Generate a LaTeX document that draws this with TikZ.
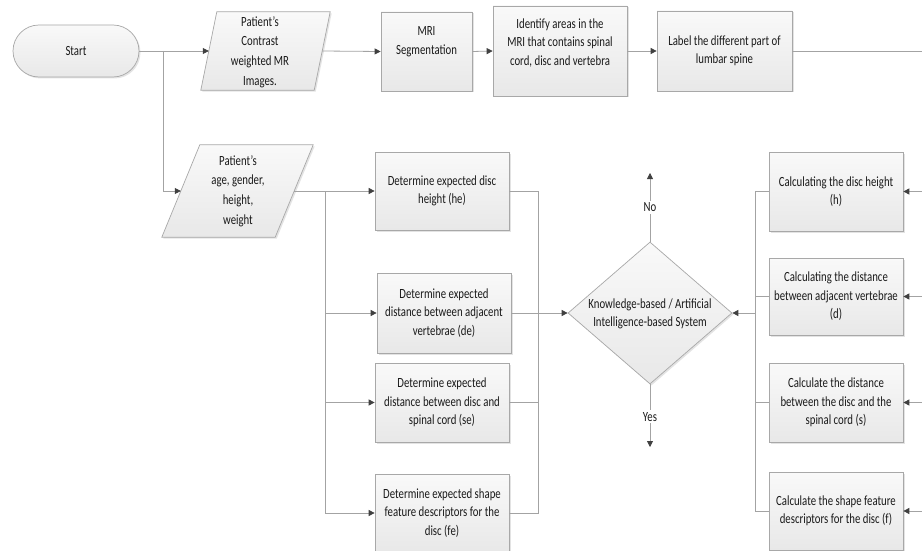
\documentclass[tikz,border=0pt]{standalone}
\usepackage{fontspec}
\setmainfont{Carlito}[FakeStretch=0.77]
\usetikzlibrary{shapes.geometric,arrows.meta,shadows}
\definecolor{linec}{HTML}{A3A3A3}
\definecolor{arrc}{HTML}{404040}
\definecolor{bordc}{HTML}{A8A8A8}
\definecolor{txtc}{HTML}{1A1A1A}
\definecolor{filltop}{HTML}{F9F9F9}
\definecolor{fillbot}{HTML}{E8E8E8}
\begin{document}
\begin{tikzpicture}[x=1pt,y=-1pt,
  shp/.style={draw=bordc, line width=0.7pt, top color=filltop, bottom color=fillbot,
    drop shadow={opacity=0.22, shadow xshift=1.5pt, shadow yshift=-1.5pt}},
  txt/.style={font=\fontsize{14}{18.5}\selectfont, text=txtc, align=center, inner sep=0pt},
  txtw/.style={font=\fontsize{14}{19.6}\selectfont, text=txtc, align=center, inner sep=0pt},
  box/.style={shp, rectangle, txt},
  frame/.style={rectangle, inner sep=0pt, draw=none},
  conn/.style={draw=linec, line width=0.8pt},
  arr/.style={conn, -{Triangle[length=6pt,width=6pt,color=arrc]}},
]
\fill[white] (0,0) rectangle (922,551);
\useasboundingbox (0,0) rectangle (922,551);

% ---------- top row ----------
\node[box, rounded corners=26pt, minimum width=126pt, minimum height=52pt] (start) at (76,51) {Start};

\node[frame, minimum width=129pt, minimum height=78pt] (p1) at (265.5,51) {};
\path[shp] ([xshift=16pt]p1.north west) -- (p1.north east) -- ([xshift=-16pt]p1.south east) -- (p1.south west) -- cycle;
\node[txtw] (p1t) at (260,52) {Patient’s\\Contrast\\weighted MR\\Images.};

\node[box, minimum width=91pt, minimum height=79pt] (mri) at (426.5,51.5) {};
\node[txt] (mrit) at (426.5,41.5) {MRI\\Segmentation};

\node[box, minimum width=134pt, minimum height=90pt] (idf) at (560,51) {};
\node[txt] (idft) at (560,43) {Identify areas in the\\MRI that contains spinal\\cord, disc and vertebra};

\node[box, minimum width=135pt, minimum height=80pt] (lab) at (724.5,51) {Label the different part of\\lumbar spine};

% ---------- patient data ----------
\node[frame, minimum width=151pt, minimum height=92pt] (age) at (237.5,191) {};
\path[shp] ([xshift=38pt]age.north west) -- (age.north east) -- ([xshift=-38pt]age.south east) -- (age.south west) -- cycle;
\node[txtw] (aget) at (238,191) {Patient’s\\age, gender,\\height,\\weight};

% ---------- expected values ----------
\node[box, minimum width=134pt, minimum height=78pt] (he) at (442,191) {Determine expected disc\\height (he)};
\node[box, minimum width=134pt, minimum height=80pt] (de) at (444,313) {Determine expected\\distance between adjacent\\vertebrae (de)};
\node[box, minimum width=134pt, minimum height=79pt] (se) at (442,402.5) {Determine expected\\distance between disc and\\spinal cord (se)};
\node[box, minimum width=134pt, minimum height=78pt] (fe) at (442,513) {Determine expected shape\\feature descriptors for the\\disc (fe)};

% ---------- decision ----------
\node[shp, diamond, minimum width=164pt, minimum height=142pt, inner sep=0pt] (dia) at (650,313) {};
\node[txt] (diat) at (650,314) {Knowledge-based / Artificial\\Intelligence-based System};

% ---------- measured values ----------
\node[box, minimum width=134pt, minimum height=79pt] (h) at (836,191.5) {Calculating the disc height\\(h)};
\node[box, minimum width=134pt, minimum height=77pt] (d) at (836,296.5) {Calculating the distance\\between adjacent vertebrae\\(d)};
\node[box, minimum width=134pt, minimum height=79pt] (s) at (836,402.5) {Calculate the distance\\between the disc and the\\spinal cord (s)};
\node[box, minimum width=134pt, minimum height=78pt] (f) at (836,511) {Calculate the shape feature\\descriptors for the disc (f)};

% ---------- connectors: top ----------
\coordinate (br1) at (163,51);
\draw[arr] (start.east) -- ([xshift=8pt]p1.west);
\draw[arr] (br1) |- ([xshift=19pt]age.west);
\draw[arr] ([xshift=-8pt]p1.east) -- (mri.west);
\draw[arr] (mri.east) -- (idf.west);
\draw[arr] (idf.east) -- (lab.west);
\coordinate (rtop) at (922,51);
\draw[conn] (lab.east) -- (rtop);

% ---------- connectors: expected ----------
\coordinate (c1) at (325,191);
\draw[arr] ([xshift=-19pt]age.east) -- (he.west);
\draw[arr] (c1) |- (de.west);
\draw[arr] (c1) |- (se.west);
\draw[arr] (c1) |- (fe.west);
\coordinate (c2) at (538,191);
\draw[conn] (he.east) -- (c2) |- (fe.east);
\draw[conn] (se.east) -- (se.east -| c2);
\draw[arr] (de.east) -- (dia.west);

% ---------- connectors: decision ----------
\coordinate (noend) at (650,173);
\coordinate (yesend) at (650,447);
\draw[arr] (dia.north) -- (noend) node[pos=0.5, txt, fill=white, inner sep=2pt] (no) {No};
\draw[arr] (dia.south) -- (yesend) node[pos=0.52, txt, fill=white, inner sep=2pt] (yes) {Yes};

% ---------- connectors: measured ----------
\coordinate (c3) at (755,192);
\draw[conn] (h.west) -- (h.west -| c3) |- (f.west);
\draw[conn] (d.west) -- (d.west -| c3);
\draw[conn] (s.west) -- (s.west -| c3);
\draw[arr] (dia.east -| c3) -- (dia.east);
\coordinate (hin) at (922,191.5);
\coordinate (din) at (922,296.5);
\coordinate (sin) at (922,402.5);
\coordinate (fin) at (922,511);
\draw[arr] (hin) -- (h.east);
\draw[arr] (din) -- (d.east);
\draw[arr] (sin) -- (s.east);
\draw[arr] (fin) -- (f.east);
\end{tikzpicture}
\end{document}
